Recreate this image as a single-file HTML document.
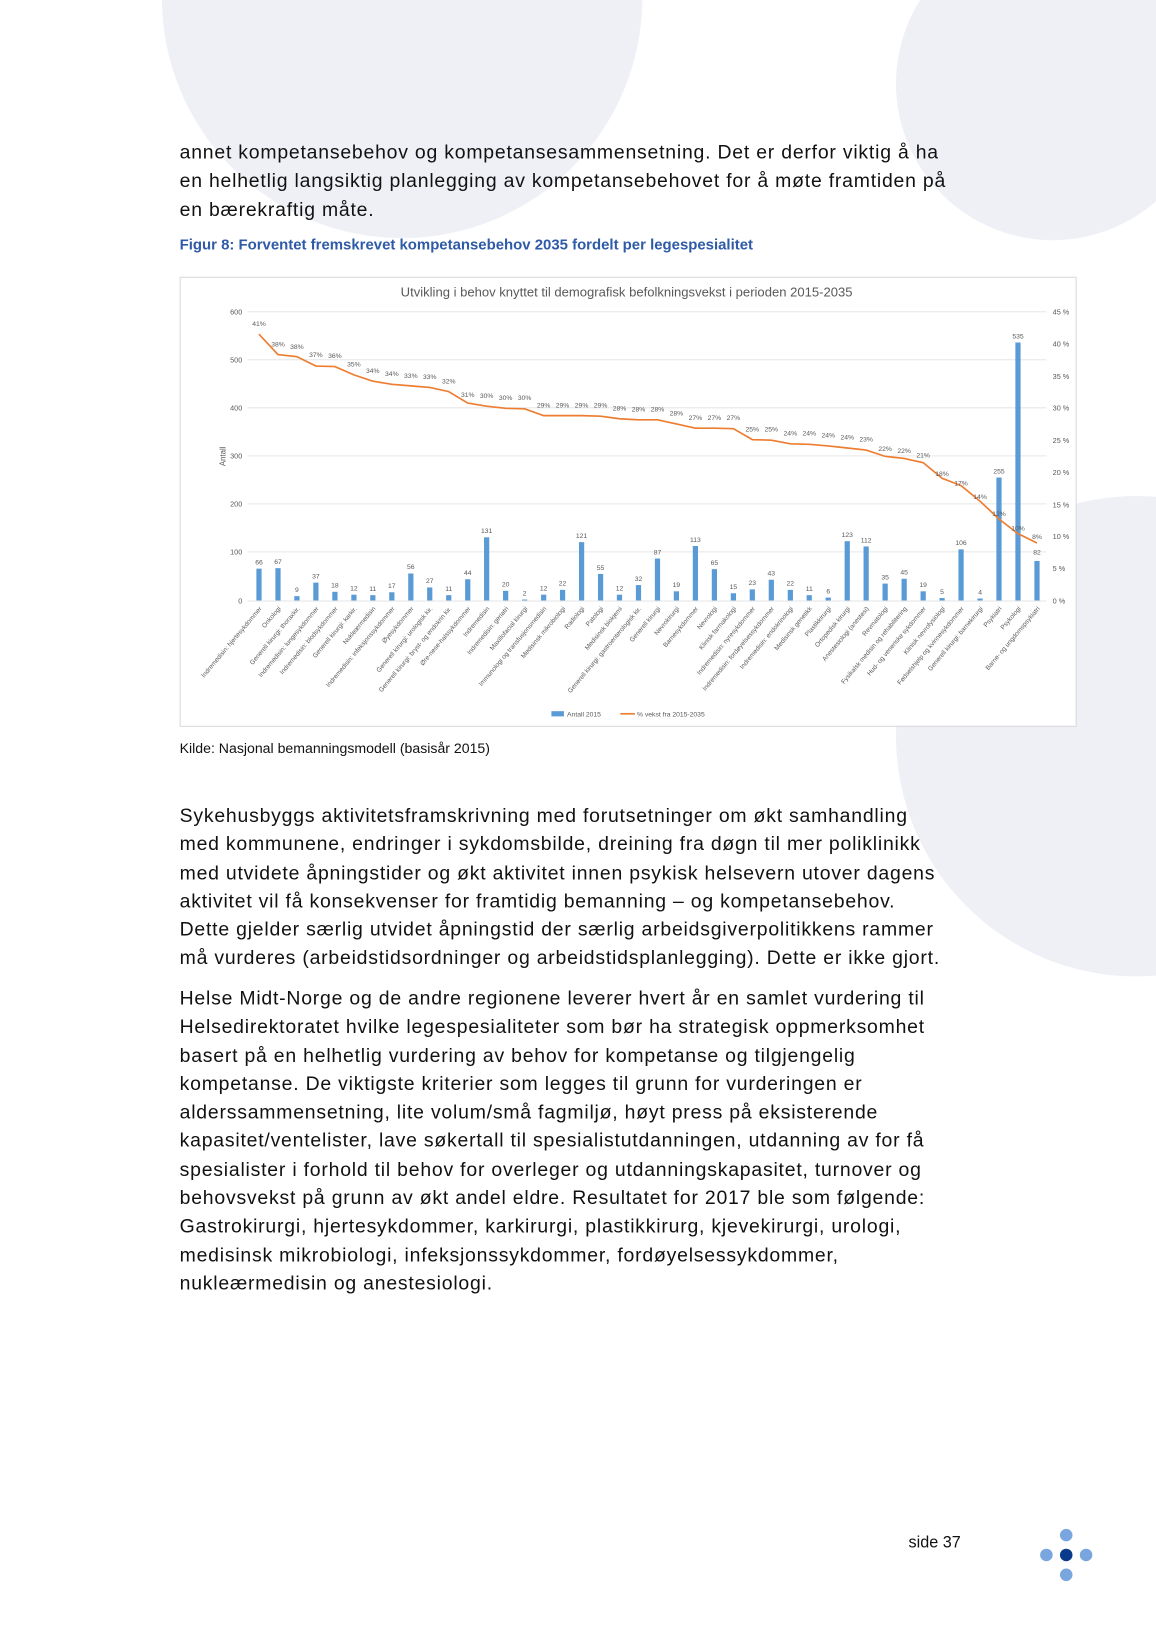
<!DOCTYPE html>
<html><head><meta charset="utf-8"><style>
html,body{margin:0;padding:0;background:#fff;overflow:hidden}
#w{width:1156px;height:1637px;position:relative;overflow:hidden}
#p{position:absolute;left:0;top:0;width:1107px;height:1568px;transform:scale(1.0443);transform-origin:0 0;font-family:"Liberation Sans",sans-serif;color:#111}
.c{position:absolute;border-radius:50%;background:#eef0f6}
.t{position:absolute;left:172px;font-size:18.6px;letter-spacing:0.75px;white-space:nowrap;line-height:27px}
.t div{height:27.3px}
svg text{font-family:"Liberation Sans",sans-serif}
</style></head><body><div id="w"><div id="p">
<div class="c" style="left:155px;top:-232px;width:460px;height:460px"></div>
<div class="c" style="left:858px;top:-70px;width:300px;height:300px"></div>
<div class="c" style="left:858px;top:475px;width:460px;height:460px"></div>

<div class="t" style="top:132px">
<div>annet kompetansebehov og kompetansesammensetning. Det er derfor viktig å ha</div>
<div>en helhetlig langsiktig planlegging av kompetansebehovet for å møte framtiden på</div>
<div>en bærekraftig måte.</div></div>
<div style="position:absolute;left:172px;top:227px;font-size:14.3px;font-weight:bold;color:#2e5aa8;white-space:nowrap">Figur 8: Forventet fremskrevet kompetansebehov 2035 fordelt per legespesialitet</div>

<svg style="position:absolute;left:0;top:0" width="1107" height="1568">
<rect x="172.5" y="265.5" width="858" height="430" fill="#fff" stroke="#d9d9d9"/>
<text x="600" y="284" font-size="12.5" fill="#595959" text-anchor="middle">Utvikling i behov knyttet til demografisk befolkningsvekst i perioden 2015-2035</text>
<g stroke="#e6e6e6" stroke-width="1">
<line x1="237" x2="1002" y1="298.5" y2="298.5"/><line x1="237" x2="1002" y1="344.5" y2="344.5"/><line x1="237" x2="1002" y1="390.5" y2="390.5"/><line x1="237" x2="1002" y1="436.5" y2="436.5"/><line x1="237" x2="1002" y1="482.5" y2="482.5"/><line x1="237" x2="1002" y1="528.5" y2="528.5"/><line x1="237" x2="1002" y1="575.5" y2="575.5"/></g>
<g font-size="7" fill="#595959" text-anchor="end">
<text x="232" y="301">600</text><text x="232" y="347">500</text><text x="232" y="393">400</text><text x="232" y="439">300</text><text x="232" y="485">200</text><text x="232" y="531">100</text><text x="232" y="578">0</text></g>
<g font-size="7" fill="#595959">
<text x="1008" y="301">45 %</text><text x="1008" y="332">40 %</text><text x="1008" y="363">35 %</text><text x="1008" y="393">30 %</text><text x="1008" y="424">25 %</text><text x="1008" y="455">20 %</text><text x="1008" y="486">15 %</text><text x="1008" y="516">10 %</text><text x="1008" y="547">5 %</text><text x="1008" y="578">0 %</text></g>
<text transform="translate(216,437) rotate(-90)" font-size="7.5" fill="#595959" text-anchor="middle">Antall</text>
<g transform="translate(0,575) scale(1,-0.4617)" fill="#5b9bd5">
<rect x="245.5" y="0" width="5" height="66"/><rect x="263.7" y="0" width="5" height="67"/><rect x="281.8" y="0" width="5" height="9"/><rect x="300" y="0" width="5" height="37"/><rect x="318.2" y="0" width="5" height="18"/><rect x="336.4" y="0" width="5" height="12"/><rect x="354.5" y="0" width="5" height="11"/><rect x="372.7" y="0" width="5" height="17"/><rect x="390.9" y="0" width="5" height="56"/><rect x="409" y="0" width="5" height="27"/><rect x="427.2" y="0" width="5" height="11"/><rect x="445.4" y="0" width="5" height="44"/><rect x="463.5" y="0" width="5" height="131"/><rect x="481.7" y="0" width="5" height="20"/><rect x="499.9" y="0" width="5" height="2"/><rect x="518.1" y="0" width="5" height="12"/><rect x="536.2" y="0" width="5" height="22"/><rect x="554.4" y="0" width="5" height="121"/><rect x="572.6" y="0" width="5" height="55"/><rect x="590.7" y="0" width="5" height="12"/><rect x="608.9" y="0" width="5" height="32"/><rect x="627.1" y="0" width="5" height="87"/><rect x="645.2" y="0" width="5" height="19"/><rect x="663.4" y="0" width="5" height="113"/><rect x="681.6" y="0" width="5" height="65"/><rect x="699.8" y="0" width="5" height="15"/><rect x="717.9" y="0" width="5" height="23"/><rect x="736.1" y="0" width="5" height="43"/><rect x="754.3" y="0" width="5" height="22"/><rect x="772.4" y="0" width="5" height="11"/><rect x="790.6" y="0" width="5" height="6"/><rect x="808.8" y="0" width="5" height="123"/><rect x="826.9" y="0" width="5" height="112"/><rect x="845.1" y="0" width="5" height="35"/><rect x="863.3" y="0" width="5" height="45"/><rect x="881.5" y="0" width="5" height="19"/><rect x="899.6" y="0" width="5" height="5"/><rect x="917.8" y="0" width="5" height="106"/><rect x="936" y="0" width="5" height="4"/><rect x="954.1" y="0" width="5" height="255"/><rect x="972.3" y="0" width="5" height="535"/><rect x="990.5" y="0" width="5" height="82"/></g>
<polyline fill="none" stroke="#ed7d31" stroke-width="1.6" points="248,320 266.2,339.5 284.3,341.5 302.5,350.5 320.7,351 338.9,359 357,365 375.2,368 393.4,369.5 411.5,371 429.7,375 447.9,386 466,389 484.2,391 502.4,391.5 520.6,398 538.7,398 556.9,398 575.1,398.5 593.2,401 611.4,402 629.6,402 647.7,406 665.9,410 684.1,410 702.3,410.5 720.4,421 738.6,421.5 756.8,425 774.9,425.5 793.1,427 811.3,429 829.4,431 847.6,437 865.8,439 884,443 902.1,458 920.3,465 938.5,480 956.6,497 974.8,511 993,520"/>
<g font-size="6.5" fill="#595959" text-anchor="middle">
<text x="248" y="540.5">66</text><text x="266.2" y="540.1">67</text><text x="284.3" y="566.8">9</text><text x="302.5" y="553.9">37</text><text x="320.7" y="562.7">18</text><text x="338.9" y="565.5">12</text><text x="357" y="565.9">11</text><text x="375.2" y="563.2">17</text><text x="393.4" y="545.1">56</text><text x="411.5" y="558.5">27</text><text x="429.7" y="565.9">11</text><text x="447.9" y="550.7">44</text><text x="466" y="510.5">131</text><text x="484.2" y="561.8">20</text><text x="502.4" y="570.1">2</text><text x="520.6" y="565.5">12</text><text x="538.7" y="560.8">22</text><text x="556.9" y="515.1">121</text><text x="575.1" y="545.6">55</text><text x="593.2" y="565.5">12</text><text x="611.4" y="556.2">32</text><text x="629.6" y="530.8">87</text><text x="647.7" y="562.2">19</text><text x="665.9" y="518.8">113</text><text x="684.1" y="541">65</text><text x="702.3" y="564.1">15</text><text x="720.4" y="560.4">23</text><text x="738.6" y="551.1">43</text><text x="756.8" y="560.8">22</text><text x="774.9" y="565.9">11</text><text x="793.1" y="568.2">6</text><text x="811.3" y="514.2">123</text><text x="829.4" y="519.3">112</text><text x="847.6" y="554.8">35</text><text x="865.8" y="550.2">45</text><text x="884" y="562.2">19</text><text x="902.1" y="568.7">5</text><text x="920.3" y="522.1">106</text><text x="938.5" y="569.2">4</text><text x="956.6" y="453.3">255</text><text x="974.8" y="324">535</text><text x="993" y="531">82</text>
<text x="248" y="312">41%</text><text x="266.2" y="332">38%</text><text x="284.3" y="334">38%</text><text x="302.5" y="342">37%</text><text x="320.7" y="343">36%</text><text x="338.9" y="351">35%</text><text x="357" y="357">34%</text><text x="375.2" y="360">34%</text><text x="393.4" y="362">33%</text><text x="411.5" y="363">33%</text><text x="429.7" y="367">32%</text><text x="447.9" y="380">31%</text><text x="466" y="381">30%</text><text x="484.2" y="383">30%</text><text x="502.4" y="383">30%</text><text x="520.6" y="390">29%</text><text x="538.7" y="390">29%</text><text x="556.9" y="390">29%</text><text x="575.1" y="390">29%</text><text x="593.2" y="393">28%</text><text x="611.4" y="394">28%</text><text x="629.6" y="394">28%</text><text x="647.7" y="398">28%</text><text x="665.9" y="402">27%</text><text x="684.1" y="402">27%</text><text x="702.3" y="402">27%</text><text x="720.4" y="413">25%</text><text x="738.6" y="413">25%</text><text x="756.8" y="417">24%</text><text x="774.9" y="417">24%</text><text x="793.1" y="419">24%</text><text x="811.3" y="421">24%</text><text x="829.4" y="423">23%</text><text x="847.6" y="432">22%</text><text x="865.8" y="434">22%</text><text x="884" y="438">21%</text><text x="902.1" y="456">18%</text><text x="920.3" y="465">17%</text><text x="938.5" y="478">14%</text><text x="956.6" y="494">12%</text><text x="974.8" y="508">10%</text><text x="993" y="516">8%</text></g>
<g font-size="6.2" fill="#595959" text-anchor="end">
<text transform="translate(251,583) rotate(-50)">Indremedisin: hjertesykdommer</text>
<text transform="translate(269.2,583) rotate(-50)">Onkologi</text>
<text transform="translate(287.3,583) rotate(-50)">Generell kirurgi: thoraxkir.</text>
<text transform="translate(305.5,583) rotate(-50)">Indremedisin: lungesykdommer</text>
<text transform="translate(323.7,583) rotate(-50)">Indremedisin: blodsykdommer</text>
<text transform="translate(341.9,583) rotate(-50)">Generell kirurgi: karkir.</text>
<text transform="translate(360,583) rotate(-50)">Nukleærmedisin</text>
<text transform="translate(378.2,583) rotate(-50)">Indremedisin: infeksjonssykdommer</text>
<text transform="translate(396.4,583) rotate(-50)">Øyesykdommer</text>
<text transform="translate(414.5,583) rotate(-50)">Generell kirurgi: urologisk kir.</text>
<text transform="translate(432.7,583) rotate(-50)">Generell kirurgi: bryst- og endokrin kir.</text>
<text transform="translate(450.9,583) rotate(-50)">Øre-nese-halssykdommer</text>
<text transform="translate(469,583) rotate(-50)">Indremedisin</text>
<text transform="translate(487.2,583) rotate(-50)">Indremedisin: geriatri</text>
<text transform="translate(505.4,583) rotate(-50)">Maxillofacial kirurgi</text>
<text transform="translate(523.6,583) rotate(-50)">Immunologi og transfusjonsmedisin</text>
<text transform="translate(541.7,583) rotate(-50)">Medisinsk mikrobiologi</text>
<text transform="translate(559.9,583) rotate(-50)">Radiologi</text>
<text transform="translate(578.1,583) rotate(-50)">Patologi</text>
<text transform="translate(596.2,583) rotate(-50)">Medisinsk biokjemi</text>
<text transform="translate(614.4,583) rotate(-50)">Generell kirurgi: gastroenterologisk kir.</text>
<text transform="translate(632.6,583) rotate(-50)">Generell kirurgi</text>
<text transform="translate(650.7,583) rotate(-50)">Nevrokirurgi</text>
<text transform="translate(668.9,583) rotate(-50)">Barnesykdommer</text>
<text transform="translate(687.1,583) rotate(-50)">Nevrologi</text>
<text transform="translate(705.3,583) rotate(-50)">Klinisk farmakologi</text>
<text transform="translate(723.4,583) rotate(-50)">Indremedisin: nyresykdommer</text>
<text transform="translate(741.6,583) rotate(-50)">Indremedisin: fordøyelsessykdommer</text>
<text transform="translate(759.8,583) rotate(-50)">Indremedisin: endokrinologi</text>
<text transform="translate(777.9,583) rotate(-50)">Medisinsk genetikk</text>
<text transform="translate(796.1,583) rotate(-50)">Plastikkirurgi</text>
<text transform="translate(814.3,583) rotate(-50)">Ortopedisk kirurgi</text>
<text transform="translate(832.4,583) rotate(-50)">Anestesiologi (anestesi)</text>
<text transform="translate(850.6,583) rotate(-50)">Revmatologi</text>
<text transform="translate(868.8,583) rotate(-50)">Fysikalsk medisin og rehabilitering</text>
<text transform="translate(887,583) rotate(-50)">Hud- og veneriske sykdommer</text>
<text transform="translate(905.1,583) rotate(-50)">Klinisk nevrofysiologi</text>
<text transform="translate(923.3,583) rotate(-50)">Fødselshjelp og kvinnesykdommer</text>
<text transform="translate(941.5,583) rotate(-50)">Generell kirurgi: barnekirurgi</text>
<text transform="translate(959.6,583) rotate(-50)">Psykiatri</text>
<text transform="translate(977.8,583) rotate(-50)">Psykologi</text>
<text transform="translate(996,583) rotate(-50)">Barne- og ungdomspsykiatri</text></g>
<rect x="528" y="681" width="12" height="5" fill="#5b9bd5"/>
<text x="543" y="686" font-size="6.5" fill="#595959">Antall 2015</text>
<line x1="594" x2="608" y1="683.5" y2="683.5" stroke="#ed7d31" stroke-width="1.6"/>
<text x="610" y="686" font-size="6.5" fill="#595959">% vekst fra 2015-2035</text>
<circle cx="1021" cy="1470" r="6" fill="#7aa6e0"/><circle cx="1021" cy="1508" r="6" fill="#7aa6e0"/>
<circle cx="1002" cy="1489" r="6" fill="#7aa6e0"/><circle cx="1040" cy="1489" r="6" fill="#7aa6e0"/>
<circle cx="1021" cy="1489" r="6" fill="#0a3a8c"/>
</svg>

<div style="position:absolute;left:172px;top:709px;font-size:13.5px;white-space:nowrap">Kilde: Nasjonal bemanningsmodell (basisår 2015)</div>

<div class="t" style="top:767px">
<div>Sykehusbyggs aktivitetsframskrivning med forutsetninger om økt samhandling</div>
<div>med kommunene, endringer i sykdomsbilde, dreining fra døgn til mer poliklinikk</div>
<div>med utvidete åpningstider og økt aktivitet innen psykisk helsevern utover dagens</div>
<div>aktivitet vil få konsekvenser for framtidig bemanning – og kompetansebehov.</div>
<div>Dette gjelder særlig utvidet åpningstid der særlig arbeidsgiverpolitikkens rammer</div>
<div>må vurderes (arbeidstidsordninger og arbeidstidsplanlegging). Dette er ikke gjort.</div></div>
<div class="t" style="top:942px">
<div>Helse Midt-Norge og de andre regionene leverer hvert år en samlet vurdering til</div>
<div>Helsedirektoratet hvilke legespesialiteter som bør ha strategisk oppmerksomhet</div>
<div>basert på en helhetlig vurdering av behov for kompetanse og tilgjengelig</div>
<div>kompetanse. De viktigste kriterier som legges til grunn for vurderingen er</div>
<div>alderssammensetning, lite volum/små fagmiljø, høyt press på eksisterende</div>
<div>kapasitet/ventelister, lave søkertall til spesialistutdanningen, utdanning av for få</div>
<div>spesialister i forhold til behov for overleger og utdanningskapasitet, turnover og</div>
<div>behovsvekst på grunn av økt andel eldre. Resultatet for 2017 ble som følgende:</div>
<div>Gastrokirurgi, hjertesykdommer, karkirurgi, plastikkirurg, kjevekirurgi, urologi,</div>
<div>medisinsk mikrobiologi, infeksjonssykdommer, fordøyelsessykdommer,</div>
<div>nukleærmedisin og anestesiologi.</div></div>

<div style="position:absolute;left:870px;top:1469px;font-size:15.5px">side 37</div>
</div></div></body></html>
